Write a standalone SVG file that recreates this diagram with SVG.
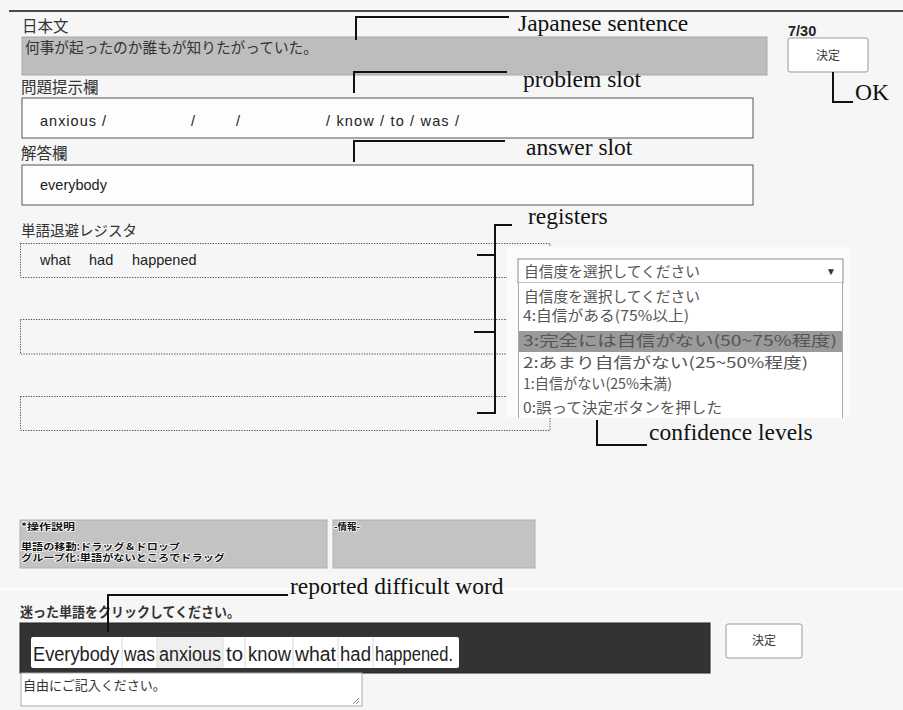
<svg xmlns="http://www.w3.org/2000/svg" width="903" height="710" viewBox="0 0 903 710">
<style>
.jp{font-family:"Noto Sans CJK JP","Noto Sans CJK SC",sans-serif;fill:#333}
.en{font-family:"Liberation Sans",Arial,sans-serif;fill:#222}
.ser{font-family:"Liberation Serif","Times New Roman",serif;fill:#111;font-size:23.5px}
.con{fill:none;stroke:#111;stroke-width:2}
.slot{fill:#fdfdfd;stroke:#555;stroke-width:1}
.reg{fill:none;stroke:#444;stroke-width:1;stroke-dasharray:1.2 1.4}
.btn{fill:#fff;stroke:#9a9a9a;stroke-width:1}
.info{fill:#c3c3c3;stroke:#b0b0b0;stroke-width:1}
.halo{font-family:"Noto Sans CJK JP",sans-serif;font-weight:bold;font-size:9.5px;fill:#111;stroke:#fff;stroke-width:1.4;paint-order:stroke}
.opt{font-family:"Noto Sans CJK JP",sans-serif;font-size:14.5px;fill:#555}
.sep{stroke:#d8d8d8;stroke-width:1}
</style>
<rect x="0" y="0" width="903" height="710" fill="#f6f6f6"/>
<line x1="9" y1="11" x2="903" y2="11" stroke="#111" stroke-width="1.5"/>

<g id="japanese-sentence">
<text class="jp" x="22" y="32" font-size="15.5">日本文</text>
<rect x="22" y="37" width="745" height="38" fill="#bdbdbd" stroke="#a8a8a8" stroke-width="1"/>
<text class="jp" x="25" y="53" font-size="15" fill="#111" textLength="293" lengthAdjust="spacingAndGlyphs">何事が起ったのか誰もが知りたがっていた。</text>
</g>

<g id="counter-ok">
<text class="en" x="788" y="36" font-size="14.5" font-weight="bold">7/30</text>
<rect class="btn" x="788" y="38" width="80" height="34" rx="2"/>
<text class="jp" x="828" y="60" font-size="12" text-anchor="middle" fill="#222">決定</text>
</g>

<g id="problem-slot">
<text class="jp" x="21" y="93" font-size="15.5">問題提示欄</text>
<rect class="slot" x="22" y="98" width="731" height="40"/>
<text class="en" x="40" y="126" font-size="14.5" textLength="66" lengthAdjust="spacing">anxious /</text>
<text class="en" x="191" y="126" font-size="14.5">/</text>
<text class="en" x="236" y="126" font-size="14.5">/</text>
<text class="en" x="326" y="126" font-size="14.5" textLength="133" lengthAdjust="spacing">/ know / to / was /</text>
</g>

<g id="answer-slot">
<text class="jp" x="21" y="159" font-size="15.5">解答欄</text>
<rect class="slot" x="22" y="165" width="731" height="40"/>
<text class="en" x="40" y="190" font-size="14.5">everybody</text>
</g>

<g id="registers">
<text class="jp" x="21" y="236" font-size="14.5">単語退避レジスタ</text>
<rect class="reg" x="20.5" y="243.5" width="529.5" height="34"/>
<text class="en" x="40" y="265" font-size="14.5">what</text>
<text class="en" x="89" y="265" font-size="14.5">had</text>
<text class="en" x="132" y="265" font-size="14.5">happened</text>
<rect class="reg" x="20.5" y="319.5" width="529.5" height="34.5"/>
<rect class="reg" x="20.5" y="396.5" width="529.5" height="34"/>
</g>

<g id="confidence-dropdown">
<rect x="507" y="247" width="343" height="171" fill="#fbfbfb"/>
<rect x="518" y="259" width="325" height="24" fill="#fff" stroke="#8a8a8a" stroke-width="1"/>
<text class="opt" x="524" y="277" textLength="176" lengthAdjust="spacingAndGlyphs">自信度を選択してください</text>
<text x="826" y="275" font-family="Liberation Sans,sans-serif" font-size="10" fill="#333">▼</text>
<rect x="518" y="283" width="325" height="135" fill="#fff"/>
<line x1="518.5" y1="283" x2="518.5" y2="418" stroke="#aaa"/>
<line x1="842.5" y1="283" x2="842.5" y2="418" stroke="#aaa"/>
<rect x="519" y="331" width="323" height="21" fill="#9a9a9a"/>
<text class="opt" x="524" y="302" textLength="176" lengthAdjust="spacingAndGlyphs">自信度を選択してください</text>
<text class="opt" x="523" y="321" textLength="166" lengthAdjust="spacingAndGlyphs">4:自信がある(75%以上)</text>
<text class="opt" x="523" y="346" fill="#f4f4f4" textLength="314" lengthAdjust="spacingAndGlyphs">3:完全には自信がない(50~75%程度)</text>
<text class="opt" x="523" y="368" textLength="285" lengthAdjust="spacingAndGlyphs">2:あまり自信がない(25~50%程度)</text>
<text class="opt" x="523" y="389" fill="#777" textLength="149" lengthAdjust="spacingAndGlyphs">1:自信がない(25%未満)</text>
<text class="opt" x="523" y="413" textLength="199" lengthAdjust="spacingAndGlyphs">0:誤って決定ボタンを押した</text>
</g>

<g id="instructions">
<rect class="info" x="20" y="520" width="307" height="48"/>
<text class="halo" x="21" y="530" textLength="54" lengthAdjust="spacingAndGlyphs">*操作説明</text>
<text class="halo" x="21" y="549.5" textLength="159" lengthAdjust="spacingAndGlyphs">単語の移動:ドラッグ＆ドロップ</text>
<text class="halo" x="21" y="561" textLength="204" lengthAdjust="spacingAndGlyphs">グループ化:単語がないところでドラッグ</text>
</g>

<g id="info">
<rect class="info" x="333" y="520" width="202" height="48"/>
<text class="halo" x="334" y="530">-情報-</text>
</g>

<line x1="0" y1="589" x2="903" y2="589" stroke="#ffffff" stroke-width="1.5"/>

<g id="difficult-word">
<text class="jp" x="20" y="617" font-size="13.5" font-weight="bold" fill="#111" textLength="220" lengthAdjust="spacingAndGlyphs">迷った単語をクリックしてください。</text>
<rect x="20" y="623" width="690" height="50" fill="#333" stroke="#222"/>
<rect x="31" y="637" width="428" height="31" rx="2" fill="#fff"/>
<rect x="157" y="637" width="66" height="31" fill="#efefef"/>
<line class="sep" x1="122" y1="638" x2="122" y2="667"/>
<line class="sep" x1="157" y1="638" x2="157" y2="667"/>
<line class="sep" x1="223" y1="638" x2="223" y2="667"/>
<line class="sep" x1="245" y1="638" x2="245" y2="667"/>
<line class="sep" x1="293" y1="638" x2="293" y2="667"/>
<line class="sep" x1="338" y1="638" x2="338" y2="667"/>
<line class="sep" x1="373" y1="638" x2="373" y2="667"/>
<g class="en" font-size="19.5">
<text x="33" y="661" textLength="86" lengthAdjust="spacingAndGlyphs">Everybody</text>
<text x="124" y="661" textLength="31" lengthAdjust="spacingAndGlyphs">was</text>
<text x="159" y="661" textLength="62" lengthAdjust="spacingAndGlyphs">anxious</text>
<text x="226" y="661" textLength="17" lengthAdjust="spacingAndGlyphs">to</text>
<text x="248" y="661" textLength="43" lengthAdjust="spacingAndGlyphs">know</text>
<text x="295" y="661" textLength="41" lengthAdjust="spacingAndGlyphs">what</text>
<text x="340" y="661" textLength="31" lengthAdjust="spacingAndGlyphs">had</text>
<text x="375" y="661" textLength="78" lengthAdjust="spacingAndGlyphs">happened.</text>
</g>
</g>

<g id="submit-bottom">
<rect class="btn" x="726" y="624" width="76" height="34" rx="2"/>
<text class="jp" x="764" y="645" font-size="12" text-anchor="middle" fill="#222">決定</text>
</g>

<g id="comment-box">
<rect x="21" y="673" width="341" height="33" fill="#fff" stroke="#aaa" stroke-width="1"/>
<text class="jp" x="23" y="690" font-size="13" fill="#111">自由にご記入ください。</text>
<path d="M353 704 L359 698 M356 704 L359 701" stroke="#888" stroke-width="1" fill="none"/>
</g>

<g id="connectors">
<polyline class="con" points="356,40 356,17 509,17"/>
<polyline class="con" points="354,93 354,72 507,72"/>
<polyline class="con" points="354,162 354,141 505,141"/>
<polyline class="con" points="833,72 833,102 853,102"/>
<polyline class="con" points="512,225 495,225 495,413 477,413"/>
<line class="con" x1="477" y1="255" x2="495" y2="255"/>
<line class="con" x1="474" y1="332" x2="495" y2="332"/>
<polyline class="con" points="597,420 597,445 647,445"/>
<polyline class="con" points="108,632 108,595 288,595"/>
</g>

<g id="labels">
<text class="ser" x="518" y="31">Japanese sentence</text>
<text class="ser" x="523" y="87">problem slot</text>
<text class="ser" x="526" y="155">answer slot</text>
<text class="ser" x="855" y="100">OK</text>
<text class="ser" x="528" y="224">registers</text>
<text class="ser" x="649" y="440">confidence levels</text>
<text class="ser" x="290" y="594">reported difficult word</text>
</g>
</svg>
